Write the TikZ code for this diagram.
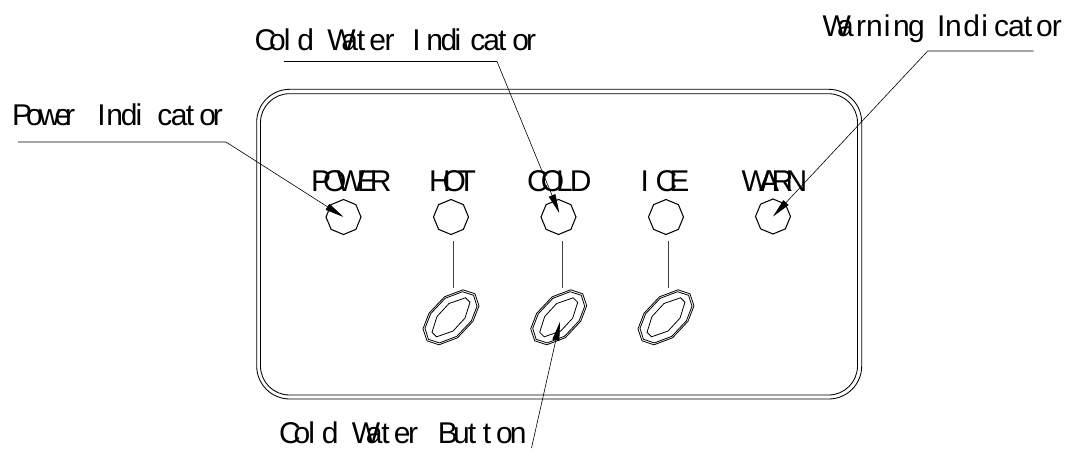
\documentclass[tikz,border=0pt]{standalone}
\usepackage{fontspec}
\setmainfont[Kerning=Off]{Liberation Sans}
\usetikzlibrary{shapes.geometric,arrows.meta}
\newcommand\K[1]{\kern#1pt\relax}
\tikzset{
  lbl/.style={anchor=base west,inner sep=0pt,font=\fontsize{30}{30}\selectfont,text=black},
  led/.style={draw=black,line width=1.05pt,regular polygon,regular polygon sides=8,shape border rotate=22.5,minimum size=35pt,inner sep=0pt},
  panelline/.style={draw=black,line width=0.85pt},
  leader/.style={draw=black,line width=0.6pt,-{Triangle[length=19pt,width=7pt]}},
  stem/.style={draw=black!75,line width=0.75pt},
  btn/.style={draw=black,line width=0.8pt}
}
\newcommand\btnshape[1]{%
  \draw[btn,shift={(#1)}] (12,-27.5)--(24,-23.5)--(28,-11.5)--(22,4)--(6.5,20.5)--(-12,27.5)--(-24,23.5)--(-28,11.5)--(-22,-4)--(-6.5,-20.5)--cycle;
  \draw[btn,shift={(#1)}] (11.5,-25.6)--(22.6,-22)--(26,-11)--(20.4,3.5)--(5.8,19)--(-11.5,25.6)--(-22.6,22)--(-26,11)--(-20.4,-3.5)--(-5.8,-19)--cycle;
  \draw[btn,shift={(#1)}] (14.5,-19.5)--(19,-15)--(14,0.8)--(2,13.8)--(-14.5,19.5)--(-19,15)--(-14,-0.8)--(-2,-13.8)--cycle;
}
\begin{document}
\begin{tikzpicture}[x=1pt,y=-1pt]
\useasboundingbox (0,0) rectangle (1066,450);
\draw[panelline,rounded corners=33pt] (256.7,89.3) rectangle (861.7,399);
\draw[panelline,rounded corners=29pt] (260.5,93.7) rectangle (857.5,395);
% indicators
\node[led] (ledpower) at (343.5,217) {};
\node[led] (ledhot) at (451,217) {};
\node[led] (ledcold) at (558.5,217) {};
\node[led] (ledice) at (666,217) {};
\node[led] (ledwarn) at (773,216.5) {};
% panel labels
\node[lbl] (tpower) at (311,191.7) {P\K{-8}O\K{-10}W\K{-8}E\K{-7}R};
\node[lbl] (thot) at (429,191.7) {H\K{-8.3}O\K{-8.3}T};
\node[lbl] (tcold) at (527,191.7) {C\K{-8}O\K{-8}L\K{-3}D};
\node[lbl] (tice) at (640.3,191.7) {I\K{6.9}C\K{-8}E};
\node[lbl] (twarn) at (741.5,191.7) {W\K{-11}A\K{-7.5}R\K{-7.5}N};
% buttons
\coordinate (bhot) at (451,317.3);
\coordinate (bcold) at (558.7,317.3);
\coordinate (bice) at (666,317.3);
\btnshape{bhot}\btnshape{bcold}\btnshape{bice}
\coordinate (shot) at (453.7,241);   \coordinate (ehot) at (453.7,288);
\coordinate (scold) at (562,241);    \coordinate (ecold) at (562,288);
\coordinate (sice) at (668.7,241);   \coordinate (eice) at (668.7,288);
\draw[stem] (shot)--(ehot);
\draw[stem] (scold)--(ecold);
\draw[stem] (sice)--(eice);
% callouts
\node[lbl] (cpower) at (12,125.7) {P\K{-6}o\K{-4}w\K{-6}e\K{-6}r\K{22.3}I\K{0.4}n\K{-2}d\K{-2}i\K{15}c\K{-1.5}a\K{-1.5}t\K{5}o\K{-3}r};
\node[lbl] (ccoldi) at (254.5,50.7) {C\K{-7.2}o\K{-2}l\K{6.8}d\K{13.3}W\K{-14.3}a\K{-1.2}t\K{4.2}e\K{-1.5}r\K{18}I\K{5.5}n\K{-2.5}d\K{-2.5}i\K{9}c\K{-2}a\K{-2}t\K{6}o\K{-3}r};
\node[lbl] (cwarn) at (822.5,36.7) {W\K{-13.8}a\K{2.3}r\K{0}n\K{1}i\K{2.6}n\K{-1.7}g\K{12.3}I\K{-0.3}n\K{1.5}d\K{1.5}i\K{6}c\K{-1}a\K{-1}t\K{4}o\K{-1}r};
\node[lbl] (cbtn) at (279,443) {C\K{-7.2}o\K{-2}l\K{6.8}d\K{13.3}W\K{-14.3}a\K{-1.2}t\K{4.2}e\K{-2.5}r\K{20}B\K{-5}u\K{-1.7}t\K{6.7}t\K{4.7}o\K{-3}n};
\coordinate (l1a) at (18,142);    \coordinate (l1b) at (226,142);
\coordinate (l2a) at (284,61.5);  \coordinate (l2b) at (497,61.5);
\coordinate (l3a) at (1033.5,51); \coordinate (l3b) at (927.7,51);
\coordinate (l4a) at (531.5,448);
\coordinate (t2) at (559.3,213);
\coordinate (t4) at (560,321.7);
\draw[leader] (l1a)--(l1b)--(ledpower.center);
\draw[leader] (l2a)--(l2b)--(t2);
\draw[leader] (l3a)--(l3b)--(ledwarn.center);
\draw[leader] (l4a)--(t4);
\end{tikzpicture}
\end{document}
